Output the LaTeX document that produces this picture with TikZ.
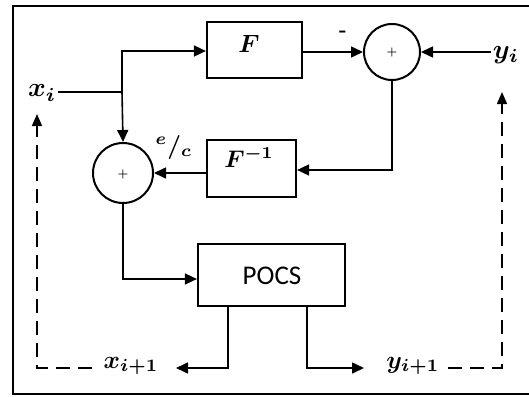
\documentclass[tikz,border=0pt]{standalone}
\usepackage{amsmath}
\usepackage{bm}
\usepackage{fontspec}
\newfontfamily\pocsfont{Carlito}
\usetikzlibrary{arrows.meta}
\begin{document}
\begin{tikzpicture}[x=1pt,y=-1pt,
  line/.style={line width=1.6pt},
  arr/.style={line width=1.6pt,-{Triangle[length=12pt,width=11pt]}},
  darr/.style={line width=1.6pt,dash pattern=on 14pt off 8pt,-{Triangle[length=12pt,width=10pt]}},
  blk/.style={draw,line width=2.2pt,inner sep=0pt},
  sumc/.style={draw,circle,line width=2pt,inner sep=0pt},
  lbl/.style={inner sep=0.5pt}]
\useasboundingbox (0,0) rectangle (529,396);
% frame
\draw[line width=2pt] (529,6) -- (13,6) -- (13,394) -- (529,394);
% blocks
\node[blk,minimum width=95pt,minimum height=56pt] (F) at (254.5,50) {};
\node[lbl,scale=2.5] (Ft) at (249,44) {$\bm{F}$};
\node[blk,minimum width=89pt,minimum height=57pt] (Fi) at (251.5,168.5) {};
\node[lbl,scale=2.4] (Fit) at (249,157) {$\bm{F^{-1}}$};
\node[blk,minimum width=147pt,minimum height=62pt] (P) at (271.5,275) {};
\node[inner sep=0pt,font=\pocsfont\fontsize{27}{30}\selectfont] (Pt) at (272,276) {POCS};
% summing junctions
\node[sumc,minimum size=56pt] (S1) at (392,52) {};
\node[scale=1.2] (S1p) at (392,53) {$\bm{+}$};
\node[sumc,minimum size=60pt] (S2) at (123,173) {};
\node[scale=1.2] (S2p) at (123,174) {$\bm{+}$};
% labels
\node[lbl,scale=2.7] (xi) at (42,93) {$\bm{x_i}$};
\node[lbl,scale=2.7] (yi) at (506,55) {$\bm{y_i}$};
\node[lbl,scale=2.5] (xn) at (131,366) {$\bm{x_{i+1}}$};
\node[lbl,scale=2.5] (yn) at (413,366) {$\bm{y_{i+1}}$};
\node[lbl,scale=2.4] (ec) at (174,147) {$\bm{{}^{e}/{}_{c}}$};
\node[scale=2] (minus) at (343,34) {\bfseries -};
% corner coordinates
\coordinate (j) at (122,92);
\coordinate (jt) at (122,51);
\coordinate (c1) at (392,170);
\coordinate (c2) at (123,279);
\coordinate (xl) at (228,368);
\coordinate (yl) at (307,368);
\coordinate (xend) at (176,368);
\coordinate (yend) at (364,368);
\coordinate (dl0) at (92,368);
\coordinate (dl1) at (37,368);
\coordinate (dlt) at (37,114);
\coordinate (dr0) at (448,368);
\coordinate (dr1) at (502,368);
\coordinate (drt) at (502,92);
% connectors
\draw[line] (xi.east |- j) -- (j);
\draw[arr] (j) -- (S2.north);
\draw[arr] (j) -- (jt) -- (F.west |- jt);
\draw[arr] (F.east |- S1) -- (S1.west);
\draw[arr] (yi.west |- S1) -- (S1.east);
\draw[arr] (S1.south) -- (c1) -- (Fi.east |- c1);
\draw[arr] (Fi.west |- S2) -- (S2.east);
\draw[arr] (S2.south) -- (c2) -- (P.west |- c2);
\draw[arr] (P.south -| xl) -- (xl) -- (xend);
\draw[arr] (P.south -| yl) -- (yl) -- (yend);
\draw[darr] (dl0) -- (dl1) -- (dlt);
\draw[darr] (dr0) -- (dr1) -- (drt);
\end{tikzpicture}
\end{document}
